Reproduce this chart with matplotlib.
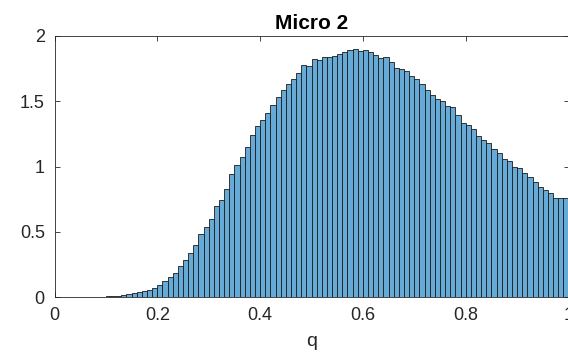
import numpy as np
import matplotlib
matplotlib.use("Agg")
import matplotlib.pyplot as plt
from matplotlib.ticker import FormatStrFormatter

# histogram of q, 100 bins of width 0.01 on [0, 1]
bin_edges = np.linspace(0.0, 1.0, 101)
counts = [
    0.0, 0.0, 0.0, 0.0, 0.0005, 0.0005, 0.001, 0.001, 0.002, 0.003,
    0.005, 0.007, 0.01, 0.015, 0.02, 0.027, 0.035, 0.045, 0.057, 0.07,
    0.093, 0.12, 0.15, 0.185, 0.24, 0.28, 0.34, 0.40, 0.48, 0.54,
    0.60, 0.70, 0.74, 0.83, 0.94, 1.015, 1.075, 1.15, 1.24, 1.31,
    1.36, 1.41, 1.47, 1.53, 1.585, 1.63, 1.67, 1.72, 1.78, 1.77,
    1.825, 1.815, 1.84, 1.84, 1.845, 1.86, 1.875, 1.89, 1.90, 1.885,
    1.895, 1.88, 1.855, 1.83, 1.84, 1.80, 1.755, 1.745, 1.73, 1.695,
    1.67, 1.63, 1.59, 1.55, 1.52, 1.50, 1.46, 1.455, 1.395, 1.33,
    1.315, 1.285, 1.235, 1.20, 1.18, 1.135, 1.10, 1.055, 1.04, 0.995,
    0.985, 0.95, 0.92, 0.885, 0.84, 0.82, 0.80, 0.76, 0.755, 0.755,
]
x_ticks = [0, 0.2, 0.4, 0.6, 0.8, 1]
y_ticks = [0, 0.5, 1, 1.5, 2]

plt.rcParams['font.family'] = ['Liberation Sans', 'DejaVu Sans']

axis_color = "#262626"
fig = plt.figure(figsize=(5.68, 3.53), dpi=100)
ax = fig.add_axes([54.5 / 568, 56 / 353, 514 / 568, 261 / 353])

# bars sit above the spines so empty bins still show their dark edge
ax.bar(bin_edges[:-1], counts, width=np.diff(bin_edges), align='edge',
       color=(0.4, 0.668, 0.845), edgecolor="#1a1a1a", linewidth=0.6,
       zorder=3)

ax.set_xlim(0, 1)
ax.set_ylim(0, 2)
ax.set_xticks(x_ticks)
ax.set_yticks(y_ticks)
ax.xaxis.set_major_formatter(FormatStrFormatter('%g'))
ax.yaxis.set_major_formatter(FormatStrFormatter('%g'))
ax.tick_params(direction='in', length=3.5, width=0.6, color=axis_color,
               labelcolor=axis_color, labelsize=13, top=True, right=True)
ax.tick_params(axis='x', pad=7)
ax.tick_params(axis='y', pad=7)
for s in ax.spines.values():
    s.set_color(axis_color)
    s.set_linewidth(0.6)

ax.set_title("Micro 2", fontsize=15, fontweight='bold', pad=5)
ax.set_xlabel("q", fontsize=14, color=axis_color, labelpad=7)

fig.savefig("out.png", dpi=100)
